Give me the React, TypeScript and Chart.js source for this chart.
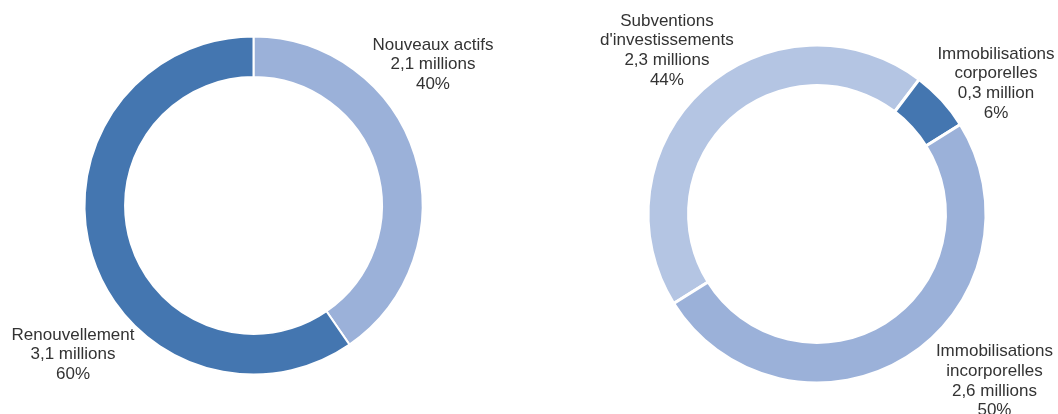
import React, { useEffect, useRef } from 'react';
import { Chart, registerables } from 'chart.js';

Chart.register(...registerables);

// ---- Data ----
const LEFT_CATEGORIES: string[][] = [['Nouveaux actifs'], ['Renouvellement']];
const LEFT_VALUES: number[] = [2.1, 3.1];

const RIGHT_CATEGORIES: string[][] = [
  ['Subventions', "d'investissements"],
  ['Immobilisations', 'corporelles'],
  ['Immobilisations', 'incorporelles'],
];
const RIGHT_VALUES: number[] = [2.3, 0.3, 2.6];

// ---- Styles / layout ----
const DARK = '#4476B0';
const MID = '#9BB1D9';
const LIGHT = '#B4C5E3';
const LEFT_COLORS = [MID, DARK];
const RIGHT_COLORS = [LIGHT, DARK, MID];

// label anchor, relative to the doughnut centre, in units of outer radius
const LEFT_ANCHORS: [number, number][] = [
  [1.062, -0.834],
  [-1.068, 0.882],
];
const RIGHT_ANCHORS: [number, number][] = [
  [-0.888, -0.967],
  [1.059, -0.772],
  [1.05, 0.988],
];

const fmtValue = (v: number) =>
  `${v.toFixed(1).replace('.', ',')} million${v >= 2 ? 's' : ''}`;

function buildLines(cats: string[][], values: number[]): string[][] {
  const total = values.reduce((a, b) => a + b, 0);
  return cats.map((c, i) => [
    ...c,
    fmtValue(values[i]),
    `${Math.round((values[i] / total) * 100)}%`,
  ]);
}

const sliceLabels = {
  id: 'sliceLabels',
  afterDraw(chart: any, _args: any, opts: any) {
    const meta = chart.getDatasetMeta(0);
    const ctx = chart.ctx as CanvasRenderingContext2D;
    ctx.save();
    ctx.font = '17px "Liberation Sans", Arial, Helvetica, sans-serif';
    ctx.fillStyle = '#333333';
    ctx.textAlign = 'center';
    ctx.textBaseline = 'middle';
    const lh = 19.7;
    meta.data.forEach((arc: any, i: number) => {
      const { x, y, outerRadius } = arc.getProps(['x', 'y', 'outerRadius'], true);
      const [ax, ay] = opts.anchors[i];
      const cx = x + ax * outerRadius;
      const cy = y + ay * outerRadius;
      const lines: string[] = opts.lines[i];
      lines.forEach((t, k) => {
        ctx.fillText(t, cx, cy + (k - (lines.length - 1) / 2) * lh);
      });
    });
    ctx.restore();
  },
};

interface DonutProps {
  cats: string[][];
  values: number[];
  colors: string[];
  rotation: number;
  anchors: [number, number][];
  padding: { left: number; right: number; top: number; bottom: number };
  left: number;
  border: number;
}

function Donut({ cats, values, colors, rotation, anchors, padding, left, border }: DonutProps) {
  const ref = useRef<HTMLCanvasElement>(null);
  useEffect(() => {
    if (!ref.current) return;
    const chart = new Chart(ref.current, {
      type: 'doughnut',
      data: {
        labels: cats.map((c) => c.join(' ')),
        datasets: [
          {
            data: values,
            backgroundColor: colors,
            borderColor: '#ffffff',
            borderWidth: border,
            hoverOffset: 0,
          },
        ],
      },
      options: {
        responsive: false,
        animation: false,
        events: [],
        rotation,
        radius: 169,
        cutout: '76%',
        layout: { padding },
        plugins: {
          legend: { display: false },
          tooltip: { enabled: false },
          sliceLabels: { anchors, lines: buildLines(cats, values) },
        } as any,
      },
      plugins: [sliceLabels],
    });
    return () => chart.destroy();
  }, []);
  return (
    <canvas
      ref={ref}
      width={529}
      height={414}
      style={{ position: 'absolute', left, top: 0, width: 529, height: 414 }}
    />
  );
}

export default function App() {
  return (
    <div
      style={{
        position: 'absolute',
        left: 0,
        top: 0,
        width: 1058,
        height: 414,
        background: '#ffffff',
      }}
    >
      <Donut
        cats={LEFT_CATEGORIES}
        values={LEFT_VALUES}
        colors={LEFT_COLORS}
        rotation={0}
        anchors={LEFT_ANCHORS}
        padding={{ left: 73.5, right: 95.5, top: 25.5, bottom: 28.5 }}
        left={0}
        border={2}
      />
      <Donut
        cats={RIGHT_CATEGORIES}
        values={RIGHT_VALUES}
        colors={RIGHT_COLORS}
        rotation={238}
        anchors={RIGHT_ANCHORS}
        padding={{ left: 108, right: 61, top: 34, bottom: 20 }}
        left={529}
        border={3}
      />
    </div>
  );
}
